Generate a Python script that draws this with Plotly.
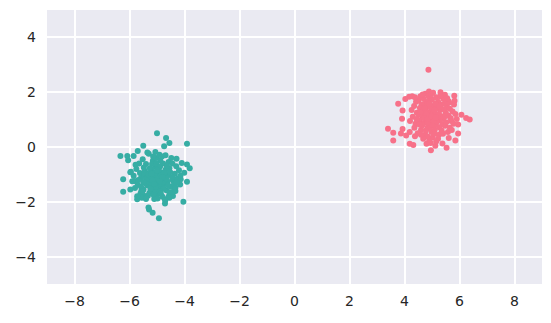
import plotly.graph_objects as go

teal_x = [-6.33, -6.23, -6.23, -6.08, -5.85, -6.05, -5.97, -5.97, -5.72, -5.31, -5.29, -5.16, -4.93, -5.0, -4.67, -4.55, -4.74, -3.91, -5.50, -5.70, -4.04, -3.81, -3.91, -3.91, -4.10, -4.71, -4.71, -4.42, -4.55, -4.33, -4.16, -4.14, -4.29, -4.01, -5.44, -5.57, -5.82,
          -5.12, -4.85, -5.31, -4.72, -5.05, -4.94, -5.44, -4.61, -5.22, -4.88, -5.36, -4.55, -5.01, -5.58, -4.78, -5.15, -4.42, -5.27, -4.97, -5.49, -4.66, -5.09, -4.83, -5.40, -4.50, -5.19, -5.62, -4.74, -5.03, -4.91, -5.33, -4.58, -5.70, -4.35, -5.25, -4.80, -5.10, -5.52, -4.68, -4.98, -5.45, -4.40, -5.60, -4.30, -5.75, -5.13, -4.88, -5.30, -4.62, -5.05, -5.38, -4.95, -4.70, -5.20, -5.85, -4.25, -5.55, -4.48, -5.00, -4.76, -5.18, -5.42, -4.86, -5.28, -4.52, -5.65, -4.90, -5.08, -4.38, -5.48, -4.64, -5.22, -5.80, -4.20, -4.82, -5.35, -5.12, -4.57, -5.90, -4.45, -5.02, -5.58, -4.73, -4.93, -5.17, -5.46, -4.60, -5.26, -4.86, -5.68, -4.33, -5.06, -4.69, -5.40, -4.98, -5.78, -4.28, -5.53, -4.79, -5.14, -5.95, -4.15, -5.32, -4.89, -5.04, -4.66, -5.24, -5.50, -4.55, -4.44, -5.72, -5.00, -4.80, -5.20, -5.10, -4.90]
teal_y = [-0.33, -1.18, -1.63, -0.33, -0.33, -0.48, -0.92, -1.55, -1.91, -2.21, -2.28, -2.40, -2.60, 0.50, 0.33, 0.15, 0.03, 0.12, 0.05, -0.15, -2.00, -0.78, -1.27, -0.64, -0.58, -2.06, -1.91, -1.79, -1.85, -1.61, -1.37, -1.18, -0.43, -0.94, -1.79, -1.61, -1.24,
          -1.05, -0.92, -1.22, -1.35, -0.71, -1.48, -0.88, -1.02, -1.61, -1.18, -1.40, -0.78, -1.30, -1.12, -0.60, -0.50, -1.22, -0.95, -1.71, -1.55, -1.58, -1.12, -1.40, -0.62, -1.45, -0.83, -0.95, -1.10, -0.40, -0.28, -1.78, -0.55, -1.38, -0.98, -1.30, -1.82, -1.90, -0.45, -0.82, -1.02, -1.05, -1.62, -1.70, -0.70, -0.80, -1.45, -0.50, -0.25, -1.25, -1.60, -1.15, -0.85, -1.95, -1.10, -1.05, -1.15, -1.85, -0.40, -1.20, -1.52, -0.62, -1.32, -1.05, -1.68, -0.92, -0.60, -1.62, -0.95, -1.35, -0.75, -0.68, -1.38, -1.50, -0.85, -0.35, -0.20, -1.75, -1.80, -1.25, -1.10, -0.60, -1.45, -0.95, -1.35, -1.22, -0.95, -1.40, -0.78, -1.70, -1.20, -1.48, -0.18, -0.30, -1.90, -1.88, -0.65, -1.30, -1.62, -1.28, -0.35, -0.90, -1.05, -1.00, -0.72, -1.45, -1.15, -1.52, -1.28, -1.65, -0.60, -1.80, -0.85, -1.10, -0.98, -1.35, -1.25]

pink_x = [4.87, 3.40, 3.59, 3.59, 3.77, 3.93, 3.91, 3.93, 3.87, 4.06, 4.19, 4.19, 4.32, 4.03, 4.17, 4.28, 4.76, 4.89, 5.31, 5.47, 5.81, 5.82, 5.60, 6.07, 6.24, 6.37, 5.95, 5.95, 5.85, 5.53, 5.38, 4.96, 5.12, 4.80, 5.61, 5.35, 4.38,
          4.92, 5.15, 4.70, 5.30, 4.85, 5.05, 4.55, 5.40, 4.78, 5.12, 4.64, 5.48, 4.98, 5.22, 4.45, 5.60, 4.88, 5.02, 4.60, 5.35, 4.72, 5.18, 4.50, 5.55, 4.95, 5.08, 4.40, 5.70, 4.82, 5.25, 4.66, 5.42, 4.90, 5.00, 4.35, 5.65, 4.75, 5.28, 4.58, 5.50, 4.86, 5.10, 4.48, 5.75, 4.96, 5.20, 4.62, 5.38, 4.80, 5.05, 4.30, 5.80, 4.70, 5.32, 4.52, 5.58, 4.92, 5.15, 4.42, 5.68, 4.84, 5.02, 4.64, 5.44, 4.76, 5.26, 4.56, 5.62, 4.98, 5.12, 4.36, 5.85, 4.88, 5.22, 4.68, 5.46, 4.80, 5.08, 4.50, 5.35, 4.94, 5.18, 4.26, 5.72, 4.72, 5.30, 4.60, 5.52, 4.90, 5.00, 4.44, 5.65, 4.85, 5.10, 4.58, 5.40, 4.78, 5.25, 4.38, 5.78, 5.04, 4.66, 5.55, 4.95, 5.15, 4.84, 5.06, 4.74, 5.28, 4.54, 5.48, 5.90, 4.20, 4.98, 5.14]
pink_y = [2.82, 0.67, 0.52, 0.24, 1.58, 1.33, 1.03, 0.66, 0.49, 0.42, 0.55, 0.12, 0.07, 1.75, 1.83, 1.85, 1.94, 2.03, 2.00, 1.91, 1.87, 1.69, 1.67, 1.18, 1.06, 1.00, 0.82, 0.49, 0.24, -0.03, 0.13, -0.12, 0.05, 0.12, 0.33, 0.52, 0.39,
          1.05, 0.88, 1.22, 1.35, 0.72, 1.50, 0.95, 1.02, 1.60, 1.18, 1.38, 0.78, 0.55, 1.65, 1.25, 1.15, 1.85, 0.35, 0.62, 0.60, 0.88, 1.42, 1.70, 1.45, 1.30, 0.78, 0.85, 0.95, 1.48, 0.45, 1.08, 1.75, 0.25, 1.72, 1.50, 0.70, 0.45, 0.98, 1.85, 1.25, 1.15, 0.62, 0.50, 1.30, 1.92, 1.02, 1.55, 0.82, 0.98, 1.25, 1.10, 1.55, 1.75, 1.55, 1.18, 0.55, 0.68, 1.82, 1.65, 1.05, 0.38, 1.10, 0.78, 1.38, 1.32, 0.72, 1.42, 1.62, 0.88, 1.58, 0.70, 1.20, 1.68, 0.30, 0.30, 1.58, 1.20, 0.48, 0.98, 1.12, 1.45, 0.92, 1.35, 0.62, 1.05, 1.85, 0.45, 0.90, 1.58, 0.80, 1.02, 1.40, 0.90, 1.35, 1.28, 0.48, 0.60, 1.20, 1.82, 0.85, 1.98, 1.92, 1.78, 0.15, 0.20, 1.02, 0.95, 1.42, 1.48, 0.82, 1.12, 1.02, 0.95, 1.12, 1.08]

x_ticks = [-8, -6, -4, -2, 0, 2, 4, 6, 8]
y_ticks = [-4, -2, 0, 2, 4]

fig = go.Figure()
fig.add_trace(go.Scatter(x=pink_x, y=pink_y, mode="markers",
                         marker=dict(color="#f77189", size=6, line=dict(width=0))))
fig.add_trace(go.Scatter(x=teal_x, y=teal_y, mode="markers",
                         marker=dict(color="#36ada4", size=6, line=dict(width=0))))

axis_common = dict(showgrid=True, gridcolor="white", gridwidth=1.5, zeroline=False,
                   showline=False, ticks="", tickfont=dict(family="DejaVu Sans", size=14, color="#262626"))
fig.update_xaxes(range=[-9, 9], tickvals=x_ticks, ticklabelstandoff=7, **axis_common)
fig.update_yaxes(range=[-5, 5], tickvals=y_ticks, ticklabelstandoff=10, **axis_common)
fig.update_layout(width=551, height=323, margin=dict(l=47, r=9, t=10, b=39),
                  plot_bgcolor="#EAEAF2", paper_bgcolor="white", showlegend=False)
fig.write_html("out.html")
